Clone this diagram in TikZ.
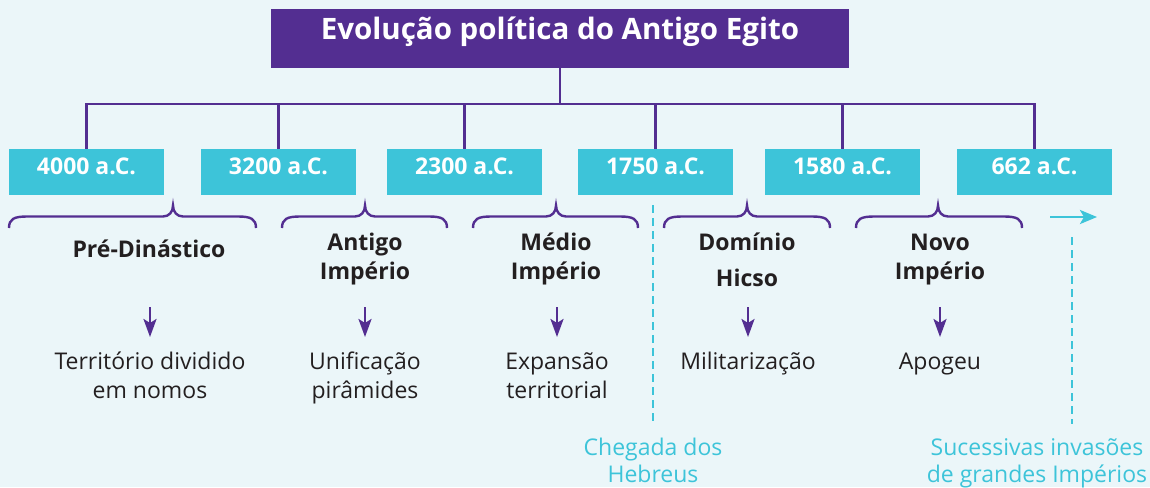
\documentclass[tikz,border=0pt]{standalone}
\usepackage{fontspec}
\setmainfont{Open Sans}
\usepackage{tikz}
\usetikzlibrary{arrows.meta,positioning}
\definecolor{fundo}{HTML}{EBF6F9}
\definecolor{roxo}{HTML}{532E91}
\definecolor{ciano}{HTML}{3DC4D9}
\definecolor{tinta}{HTML}{231F20}
\tikzstyle{titlebox} = [fill=roxo,text=white,inner sep=0pt,minimum width=578pt,text height=30.5pt,text depth=28.5pt,font=\bfseries\fontsize{29.5}{34}\selectfont]
\tikzstyle{datebox}  = [fill=ciano,text=white,inner sep=0pt,minimum width=155pt,text height=25pt,text depth=21pt,font=\bfseries\fontsize{23}{27}\selectfont]
\tikzstyle{era}  = [anchor=base,align=center,inner sep=0pt,text=tinta,font=\bfseries\fontsize{23}{28.5}\selectfont]
\tikzstyle{fact} = [anchor=base,align=center,inner sep=0pt,text=tinta,font=\fontsize{23}{29}\selectfont]
\tikzstyle{note} = [anchor=base,align=center,inner sep=0pt,text=ciano,font=\fontsize{23}{27}\selectfont]
\tikzstyle{bus}  = [draw=roxo,line width=2.8pt]
\tikzstyle{brace} = [draw=roxo,line width=2.4pt]
\tikzstyle{drop} = [draw=roxo,line width=2.6pt,-{Stealth[length=18pt,width=13pt,inset=4pt]}]
\tikzstyle{divider} = [draw=ciano,line width=2.8pt,dash pattern=on 8pt off 5pt]
\tikzstyle{ahead} = [draw=ciano,line width=2.8pt,-{Stealth[length=17pt,width=14pt,inset=4pt]}]

% brace: left end, tip, right end
\newcommand{\eraBrace}[3]{%
  \draw[brace] (#1,228) .. controls (#1,219) and ({#1+5},216.5) .. ({#1+18},216.5)
    -- ({#2-10},216.5) .. controls ({#2-4},216.5) and (#2,212) .. (#2,205.5)
    .. controls (#2,212) and ({#2+4},216.5) .. ({#2+10},216.5)
    -- ({#3-18},216.5) .. controls ({#3-5},216.5) and (#3,219) .. (#3,228);}

\begin{document}
\begin{tikzpicture}[x=1pt,y=-1pt]

\fill[fundo] (0,0) rectangle (1150,487);
\useasboundingbox (0,0) rectangle (1150,487);

\node[titlebox] (title) at (560,38.5) {Evolução política do Antigo Egito};

\node[datebox] (d1) at (86.5,172)  {4000 a.C.};
\node[datebox] (d2) at (278.5,172) {3200 a.C.};
\node[datebox] (d3) at (464.5,172) {2300 a.C.};
\node[datebox] (d4) at (655.5,172) {1750 a.C.};
\node[datebox] (d5) at (842.5,172) {1580 a.C.};
\node[datebox] (d6) at (1034.5,172) {662 a.C.};

\coordinate (bus) at (560,104);
\draw[bus] (title.south) -- (bus);
\foreach \d in {d1,d2,d3,d4,d5,d6}
  \draw[bus] (\d.north) |- (bus);

\eraBrace{9}{173}{256}
\eraBrace{282}{365}{447}
\eraBrace{473}{556}{638}
\eraBrace{664}{747}{830}
\eraBrace{856}{938}{1022}

% base = last line
\node[era] (e1) at (149,257)   {Pré-Dinástico};
\node[era] (e2) at (365,279)   {Antigo\\Império};
\node[era] (e3) at (556,279)   {Médio\\Império};
\node[era] (e4) at (747,286.5) {Domínio\\[8pt]Hicso};
\node[era] (e5) at (940,279)   {Novo\\Império};

\node[fact] (f1) at (150,398) {Território dividido\\em nomos};
\node[fact] (f2) at (365,398) {Unificação\\pirâmides};
\node[fact] (f3) at (557,398) {Expansão\\territorial};
\node[fact] (f4) at (748,369) {Militarização};
\node[fact] (f5) at (940,369) {Apogeu};

\coordinate (top) at (0,307);
\coordinate (tip) at (0,337);
\foreach \f in {f1,f2,f3,f4,f5}
  \draw[drop] (\f |- top) -- (\f |- tip);

\node[note] (n1) at (653,482)  {Chegada dos\\Hebreus};
\node[note] (n2) at (1037,482) {Sucessivas invasões\\de grandes Impérios};

\draw[divider] (n1.north |- d4.south) ++(0,10) -- ([yshift=14pt]n1.north);

\coordinate (ar) at (1050,217);
\draw[ahead] (ar) -- ++(47,0);
\coordinate (v2) at (1072,237);
\draw[divider] (v2) -- ([yshift=14pt]n2.north -| v2);

\end{tikzpicture}
\end{document}
